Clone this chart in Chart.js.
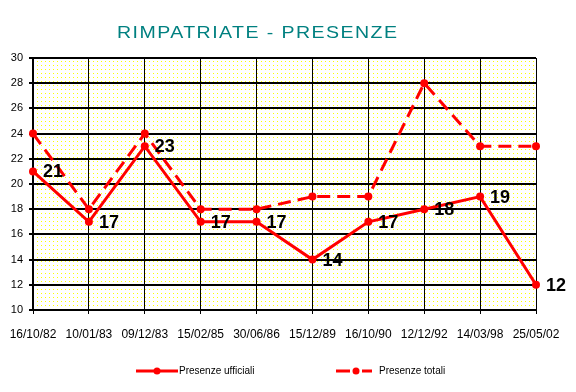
<!DOCTYPE html>
<html>
<head>
<meta charset="utf-8">
<script src="https://cdn.jsdelivr.net/npm/chart.js@4/dist/chart.umd.min.js"></script>
<style>
  html, body { margin: 0; padding: 0; background: #fff; }
  #wrap { width: 576px; height: 392px; }
</style>
</head>
<body>
<div id="wrap"><canvas id="rimpChart" width="576" height="392"></canvas></div>
<script>
// dates of the surveys
const dates = ['16/10/82', '10/01/83', '09/12/83', '15/02/85', '30/06/86', '15/12/89', '16/10/90', '12/12/92', '14/03/98', '25/05/02'];
const presenzeUfficiali = [21, 17, 23, 17, 17, 14, 17, 18, 19, 12];
const presenzeTotali = [24, 18, 24, 18, 18, 19, 19, 28, 23, 23];
const seriesNames = ['Presenze ufficiali', 'Presenze totali'];
const titleText = 'RIMPATRIATE - PRESENZE';

const RED = '#ff0000';
const FONT = '"Liberation Sans", Arial, sans-serif';

// yellow dotted background of the plot area
const patCanvas = document.createElement('canvas');
patCanvas.width = 4;
patCanvas.height = 4;
const pctx = patCanvas.getContext('2d');
pctx.fillStyle = '#ffff00';
pctx.fillRect(1, 1, 1, 1);

const backgroundPlugin = {
  id: 'dottedBg',
  beforeDraw(chart) {
    const { ctx, chartArea } = chart;
    const pattern = ctx.createPattern(patCanvas, 'repeat');
    ctx.save();
    ctx.fillStyle = pattern;
    ctx.fillRect(chartArea.left, chartArea.top, chartArea.right - chartArea.left, chartArea.bottom - chartArea.top);
    ctx.restore();
  }
};

// title: wide glyphs with some letter spacing
const titlePlugin = {
  id: 'spacedTitle',
  afterDraw(chart) {
    const ctx = chart.ctx;
    const stretch = 1.15;
    ctx.save();
    ctx.font = '17px ' + FONT;
    ctx.fillStyle = '#008080';
    ctx.textBaseline = 'alphabetic';
    ctx.textAlign = 'left';
    const plainWidth = ctx.measureText(titleText).width * stretch;
    const spacing = (280 - plainWidth) / (titleText.length - 1) / stretch;
    ctx.letterSpacing = spacing + 'px';
    ctx.translate(117, 38);
    ctx.scale(stretch, 1);
    ctx.fillText(titleText, 0, 0);
    ctx.restore();
  }
};

// value labels next to the official series
const labelPlugin = {
  id: 'valueLabels',
  afterDatasetsDraw(chart) {
    const ctx = chart.ctx;
    const meta = chart.getDatasetMeta(0);
    ctx.save();
    ctx.font = 'bold 18px ' + FONT;
    ctx.fillStyle = '#000';
    ctx.textAlign = 'left';
    ctx.textBaseline = 'middle';
    meta.data.forEach(function (pt, i) {
      ctx.fillText(String(presenzeUfficiali[i]), pt.x + 10, pt.y + 1);
    });
    ctx.restore();
  }
};

// legend drawn by hand: line with marker, then name
const legendPlugin = {
  id: 'lineLegend',
  afterDraw(chart) {
    const ctx = chart.ctx;
    const y = 371;
    ctx.save();
    ctx.strokeStyle = RED;
    ctx.fillStyle = RED;
    ctx.lineWidth = 3;

    // solid
    ctx.beginPath();
    ctx.moveTo(136, y);
    ctx.lineTo(178, y);
    ctx.stroke();
    ctx.beginPath();
    ctx.arc(157, y, 3.5, 0, Math.PI * 2);
    ctx.fill();

    // dashed
    ctx.beginPath();
    ctx.moveTo(336, y);
    ctx.lineTo(350, y);
    ctx.moveTo(362, y);
    ctx.lineTo(372, y);
    ctx.stroke();
    ctx.beginPath();
    ctx.arc(356, y, 3.5, 0, Math.PI * 2);
    ctx.fill();

    ctx.fillStyle = '#000';
    ctx.font = '10px ' + FONT;
    ctx.textBaseline = 'middle';
    ctx.textAlign = 'left';
    ctx.fillText(seriesNames[0], 179, y);
    ctx.fillText(seriesNames[1], 379, y);
    ctx.restore();
  }
};

const ctx = document.getElementById('rimpChart').getContext('2d');

new Chart(ctx, {
  type: 'line',
  data: {
    labels: dates,
    datasets: [
      {
        label: seriesNames[0],
        data: presenzeUfficiali,
        borderColor: RED,
        backgroundColor: RED,
        borderWidth: 3,
        pointRadius: 4,
        pointBorderWidth: 0,
        tension: 0,
        fill: false
      },
      {
        label: seriesNames[1],
        data: presenzeTotali,
        borderColor: RED,
        backgroundColor: RED,
        borderWidth: 3,
        borderDash: [13, 7],
        pointRadius: 4,
        pointBorderWidth: 0,
        tension: 0,
        fill: false
      }
    ]
  },
  options: {
    responsive: false,
    animation: false,
    events: [],
    layout: {
      padding: { top: 58, right: 40, left: 0, bottom: 0 }
    },
    plugins: {
      legend: { display: false },
      title: { display: false },
      tooltip: { enabled: false }
    },
    scales: {
      x: {
        offset: false,
        grid: {
          color: '#000',
          lineWidth: 1,
          drawTicks: true,
          tickLength: 4,
          tickColor: '#000'
        },
        border: { color: '#000', width: 2 },
        ticks: {
          color: '#000',
          font: { family: FONT, size: 12 },
          padding: 13,
          autoSkip: false,
          maxRotation: 0,
          minRotation: 0
        },
        afterFit(axis) {
          axis.height = 82;
          axis.paddingLeft = 0;
          axis.paddingRight = 0;
        }
      },
      y: {
        min: 10,
        max: 30,
        grid: {
          color: '#000',
          lineWidth: 2,
          drawTicks: true,
          tickLength: 4,
          tickColor: '#000'
        },
        border: { color: '#000', width: 2 },
        ticks: {
          stepSize: 2,
          color: '#000',
          font: { family: FONT, size: 11 },
          padding: 6
        },
        afterFit(axis) {
          axis.width = 33;
        }
      }
    }
  },
  plugins: [backgroundPlugin, labelPlugin, titlePlugin, legendPlugin]
});
</script>
</body>
</html>
